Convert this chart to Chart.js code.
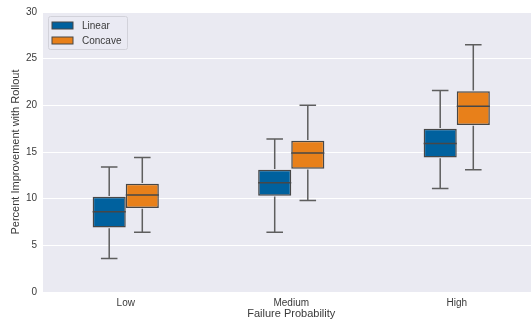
<!DOCTYPE html>
<html>
<head>
<meta charset="utf-8">
<script src="https://cdn.jsdelivr.net/npm/chart.js@4/dist/chart.umd.min.js"></script>
<style>
  html, body { margin: 0; padding: 0; background: #ffffff; overflow: hidden; }
  #wrap { width: 531px; height: 328px; overflow: hidden; }
</style>
</head>
<body>
<div id="wrap"><canvas id="chart" width="541" height="328"></canvas></div>
<script>
// Categories on the x axis
const categories = ['Low', 'Medium', 'High'];

// Box statistics per failure-probability level: lower whisker, Q1, median, Q3, upper whisker
const linearWhiskerLow  = [3.6, 6.4, 11.1];
const linearQ1          = [6.9, 10.3, 14.4];
const linearMedian      = [8.6, 11.7, 15.9];
const linearQ3          = [10.2, 13.1, 17.5];
const linearWhiskerHigh = [13.4, 16.4, 21.6];

const concaveWhiskerLow  = [6.4, 9.8, 13.1];
const concaveQ1          = [9.0, 13.2, 17.9];
const concaveMedian      = [10.4, 14.9, 19.9];
const concaveQ3          = [11.6, 16.2, 21.5];
const concaveWhiskerHigh = [14.4, 20.0, 26.5];

// Y axis tick values
const yTicks = [0, 5, 10, 15, 20, 25, 30];

const seriesStats = [
  { low: linearWhiskerLow, q1: linearQ1, med: linearMedian, q3: linearQ3, high: linearWhiskerHigh },
  { low: concaveWhiskerLow, q1: concaveQ1, med: concaveMedian, q3: concaveQ3, high: concaveWhiskerHigh }
];

const edgeGray = '#474747';
const whiskerGray = '#5e5e5e';
const textColor = '#3a3a3a';
const fontFamily = '"Liberation Sans", Arial, Helvetica, sans-serif';

// Axes background
const plotBackground = {
  id: 'plotBackground',
  beforeDraw(chart) {
    const { ctx, chartArea: a } = chart;
    ctx.save();
    ctx.fillStyle = '#eaeaf2';
    ctx.fillRect(a.left, a.top, a.right - a.left, a.bottom - a.top);
    ctx.restore();
  }
};

// Whiskers, caps and median lines for each box
const boxExtras = {
  id: 'boxExtras',
  afterDatasetsDraw(chart) {
    const { ctx } = chart;
    const y = chart.scales.y;
    ctx.save();
    ctx.lineWidth = 1.5;
    ctx.lineCap = 'butt';
    seriesStats.forEach((s, di) => {
      const meta = chart.getDatasetMeta(di);
      meta.data.forEach((bar, i) => {
        const x = bar.x;
        const w = bar.width;
        const cap = w / 4;
        const yLow = y.getPixelForValue(s.low[i]);
        const yQ1 = y.getPixelForValue(s.q1[i]);
        const yMed = y.getPixelForValue(s.med[i]);
        const yQ3 = y.getPixelForValue(s.q3[i]);
        const yHigh = y.getPixelForValue(s.high[i]);
        ctx.strokeStyle = whiskerGray;
        ctx.beginPath();
        // lower whisker + cap
        ctx.moveTo(x, yQ1 + 0.75); ctx.lineTo(x, yLow);
        ctx.moveTo(x - cap, yLow); ctx.lineTo(x + cap, yLow);
        // upper whisker + cap
        ctx.moveTo(x, yQ3 - 0.75); ctx.lineTo(x, yHigh);
        ctx.moveTo(x - cap, yHigh); ctx.lineTo(x + cap, yHigh);
        ctx.stroke();
        // median
        ctx.strokeStyle = edgeGray;
        ctx.beginPath();
        ctx.moveTo(x - w / 2, yMed); ctx.lineTo(x + w / 2, yMed);
        ctx.stroke();
      });
    });
    ctx.restore();
  }
};

// Legend box in the upper-left corner of the plot
const cornerLegend = {
  id: 'cornerLegend',
  afterDraw(chart) {
    const { ctx, chartArea: a } = chart;
    const x0 = a.left + 5, y0 = a.top + 4, w = 79, h = 33;
    ctx.save();
    ctx.fillStyle = 'rgba(234,234,242,0.8)';
    ctx.strokeStyle = '#d2d2da';
    ctx.lineWidth = 1;
    ctx.beginPath();
    ctx.roundRect(x0 + 0.5, y0 + 0.5, w, h, 2);
    ctx.fill();
    ctx.stroke();
    ctx.font = '10px ' + fontFamily;
    ctx.textBaseline = 'middle';
    ctx.textAlign = 'left';
    chart.data.datasets.forEach((ds, i) => {
      const cy = y0 + 9.5 + i * 15;
      ctx.fillStyle = ds.backgroundColor;
      ctx.fillRect(x0 + 4, cy - 3.5, 21, 7);
      ctx.strokeStyle = edgeGray;
      ctx.lineWidth = 1;
      ctx.strokeRect(x0 + 4, cy - 3.5, 21, 7);
      ctx.fillStyle = textColor;
      ctx.fillText(ds.label, x0 + 34, cy + 0.5);
    });
    ctx.restore();
  }
};

new Chart(document.getElementById('chart'), {
  type: 'bar',
  data: {
    labels: categories,
    datasets: [
      {
        label: 'Linear',
        data: linearQ1.map((v, i) => [v, linearQ3[i]]),
        backgroundColor: '#00619e',
        borderColor: edgeGray,
        borderWidth: 1.5,
        borderSkipped: false,
        categoryPercentage: 0.4,
        barPercentage: 1.0
      },
      {
        label: 'Concave',
        data: concaveQ1.map((v, i) => [v, concaveQ3[i]]),
        backgroundColor: '#e8801a',
        borderColor: edgeGray,
        borderWidth: 1.5,
        borderSkipped: false,
        categoryPercentage: 0.4,
        barPercentage: 1.0
      }
    ]
  },
  options: {
    responsive: false,
    devicePixelRatio: 1,
    animation: false,
    layout: { padding: { left: 0, right: 1.5, top: 11, bottom: 0 } },
    plugins: {
      legend: { display: false },
      tooltip: { enabled: false }
    },
    scales: {
      x: {
        grid: { display: false, drawTicks: false },
        border: { display: false },
        ticks: { color: textColor, font: { family: fontFamily, size: 10 }, padding: 5 },
        title: {
          display: true,
          text: 'Failure Probability',
          color: textColor,
          font: { family: fontFamily, size: 11 },
          padding: { top: 0, bottom: 7 }
        },
        afterFit(scale) { scale.height = 36; }
      },
      y: {
        min: 0,
        max: 30,
        afterBuildTicks(scale) { scale.ticks = yTicks.map(v => ({ value: v })); },
        grid: { color: '#ffffff', lineWidth: 1, drawTicks: false },
        border: { display: false },
        ticks: { color: textColor, font: { family: fontFamily, size: 10 }, padding: 6 },
        title: {
          display: true,
          text: 'Percent Improvement with Rollout',
          color: textColor,
          font: { family: fontFamily, size: 11 },
          padding: { top: 9, bottom: 0 }
        },
        afterFit(scale) { scale.width = 43; }
      }
    }
  },
  plugins: [plotBackground, boxExtras, cornerLegend]
});
</script>
</body>
</html>
